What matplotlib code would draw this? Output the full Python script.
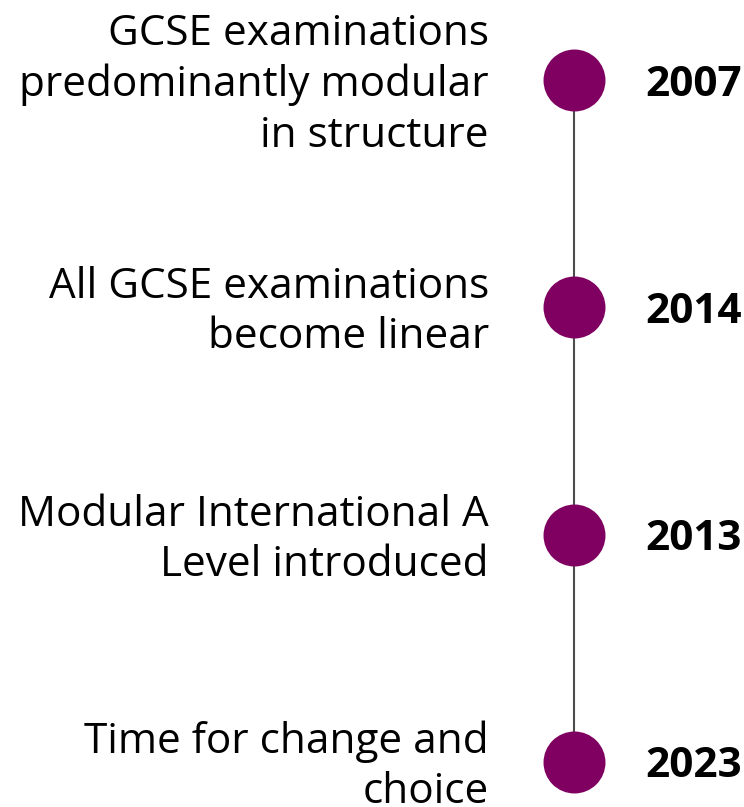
import matplotlib.pyplot as plt

# timeline data
years = ["2007", "2014", "2013", "2023"]
events = [
    "GCSE examinations\npredominantly modular\nin structure",
    "All GCSE examinations\nbecome linear",
    "Modular International A\nLevel introduced",
    "Time for change and\nchoice",
]

plt.rcParams['font.family'] = ['Open Sans', 'DejaVu Sans']

fig = plt.figure(figsize=(7.44, 8.07), dpi=100)
ax = fig.add_axes([0, 0, 1, 1])

pos = list(range(len(years)))
line_x = 574
dy = 0.022  # nudge text down a bit so it sits centred on the dots

# vertical line behind the dots
ax.plot([line_x, line_x], [pos[0], pos[-1]], color="#4d4d4d", lw=1.5, zorder=1)
ax.scatter([line_x] * len(pos), pos, s=1990, color="#7f0060", zorder=2, linewidths=0)

for p, yr, ev in zip(pos, years, events):
    ax.text(645, p + dy, yr, fontsize=30.4, fontweight="bold", ha="left", va="center", color="black")
    ax.text(489, p + dy, ev, fontsize=30.4, ha="right", va="center", color="black", linespacing=1.26)

ax.set_xlim(0, 744)
ax.set_ylim(3 + 45 / 227.3, -80 / 227.3)
ax.axis("off")

fig.savefig("out.png", dpi=100)
